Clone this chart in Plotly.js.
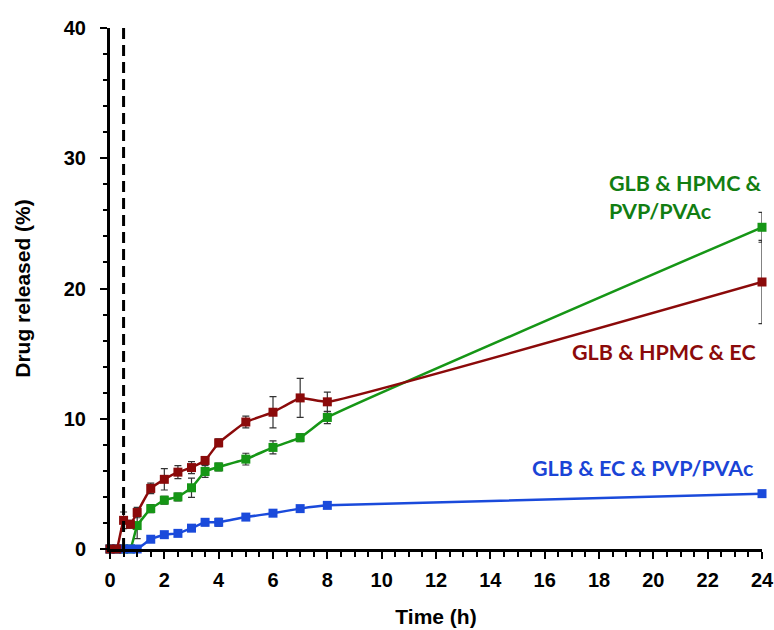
<!DOCTYPE html>
<html>
<head>
<meta charset="utf-8">
<script src="https://cdn.plot.ly/plotly-3.0.1.min.js"></script>
<style>html,body{margin:0;padding:0;background:#fff;}#chart{width:774px;height:630px;}</style>
</head>
<body>
<div id="chart"></div>
<script>
// Time points (h)
const times = [0, 0.25, 0.5, 0.75, 1, 1.5, 2, 2.5, 3, 3.5, 4, 5, 6, 7, 8, 24];
// GLB & HPMC & EC
const hpmcEc = [0, 0, 2.2, 1.9, 2.8, 4.65, 5.35, 5.9, 6.25, 6.8, 8.15, 9.75, 10.5, 11.6, 11.3, 20.5];
const hpmcEcErr = [0, 0, 0.64, 0.3, 0.4, 0.4, 0.82, 0.5, 0.46, 0.3, 0.3, 0.45, 1.2, 1.5, 0.75, 3.2];
// GLB & HPMC & PVP/PVAc
const hpmcPvp = [0, 0, 0, 0, 1.8, 3.1, 3.75, 4.0, 4.7, 5.95, 6.3, 6.9, 7.8, 8.55, 10.1, 24.7];
const hpmcPvpErr = [0, 0, 0, 0, 1.0, 0.3, 0.3, 0.3, 0.74, 0.45, 0.3, 0.45, 0.5, 0.3, 0.47, 1.15];
// GLB & EC & PVP/PVAc
const ecPvp = [0, 0, 0, 0, 0, 0.75, 1.1, 1.2, 1.6, 2.05, 2.05, 2.45, 2.75, 3.1, 3.35, 4.25];
const ecPvpErr = [0, 0, 0, 0, 0, 0.15, 0.15, 0.15, 0.2, 0.25, 0.3, 0.2, 0.2, 0.15, 0.15, 0.15];

const seriesNames = ['GLB & HPMC & PVP/PVAc', 'GLB & EC & PVP/PVAc', 'GLB & HPMC & EC'];
const dashX = 0.5;

const RED = '#8B0A0A', GREEN = '#169616', BLUE = '#1A4ADB';

function trace(y, err, color, name) {
  return {
    x: times, y: y, name: name, type: 'scatter', mode: 'lines+markers',
    line: {color: color, width: 2.5, shape: 'spline', smoothing: 0.3},
    marker: {symbol: 'square', size: 9, color: color},
    error_y: {type: 'data', array: err, visible: true, color: '#333333', thickness: 1.2, width: 3.5},
    showlegend: false, cliponaxis: false
  };
}

const data = [
  trace(hpmcPvp, hpmcPvpErr, GREEN, seriesNames[0]),
  trace(ecPvp, ecPvpErr, BLUE, seriesNames[1]),
  trace(hpmcEc, hpmcEcErr, RED, seriesNames[2])
];

const tickFont = {family: 'Liberation Sans, Arial, sans-serif', size: 20, color: '#000', weight: 'bold'};
const titleFont = {family: 'Liberation Sans, Arial, sans-serif', size: 21, color: '#000', weight: 'bold'};
const annFont = (c) => ({family: 'Lato, sans-serif', size: 21.5, color: c, weight: 'bold'});

const layout = {
  width: 774, height: 630,
  margin: {l: 110, r: 12, t: 28, b: 81},
  paper_bgcolor: '#fff', plot_bgcolor: '#fff',
  xaxis: {
    range: [0, 24], dtick: 2, tick0: 0, showgrid: false, zeroline: false,
    showline: true, linecolor: '#000', linewidth: 3,
    ticks: 'outside', ticklen: 7, tickwidth: 2, tickcolor: '#000',
    minor: {dtick: 0.5, ticks: 'outside', ticklen: 5, tickwidth: 2, tickcolor: '#000', showgrid: false},
    tickfont: tickFont, ticklabelstandoff: 4,
    title: {text: 'Time (h)', font: titleFont, standoff: 20}
  },
  yaxis: {
    range: [0, 40], dtick: 10, tick0: 0, showgrid: false, zeroline: false,
    showline: true, linecolor: '#000', linewidth: 3,
    ticks: 'outside', ticklen: 7, tickwidth: 2, tickcolor: '#000',
    minor: {dtick: 2, ticks: 'outside', ticklen: 4, tickwidth: 2, tickcolor: '#000', showgrid: false},
    tickfont: tickFont, ticklabelstandoff: 10,
    title: {text: 'Drug released (%)', font: titleFont, standoff: 28}
  },
  shapes: [{
    type: 'line', xref: 'x', yref: 'paper', x0: dashX, x1: dashX, y0: 0, y1: 1.01,
    line: {color: '#000', width: 3, dash: '11px,6px'}
  }],
  annotations: [
    {xref: 'paper', yref: 'paper', x: 0.762, y: 0.676, xanchor: 'left', yanchor: 'middle', align: 'left',
     text: 'GLB & HPMC &<br>PVP/PVAc', showarrow: false, font: annFont('#127E12')},
    {xref: 'paper', yref: 'paper', x: 0.994, y: 0.378, xanchor: 'right', yanchor: 'middle',
     text: 'GLB & HPMC & EC', showarrow: false, font: annFont('#8B0A0A')},
    {xref: 'paper', yref: 'paper', x: 0.991, y: 0.155, xanchor: 'right', yanchor: 'middle',
     text: 'GLB & EC & PVP/PVAc', showarrow: false, font: annFont('#1A44D6')}
  ]
};

Plotly.newPlot('chart', data, layout, {displayModeBar: false, staticPlot: true});
</script>
</body>
</html>
